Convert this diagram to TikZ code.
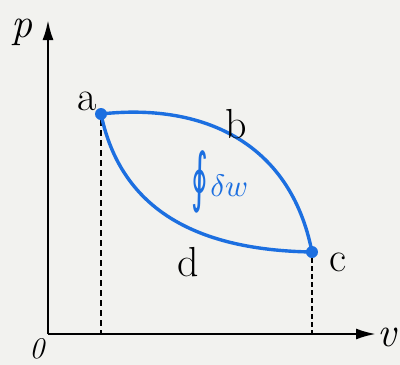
\documentclass[tikz,border=0pt]{standalone}
\usepackage{fontspec}
\newfontfamily\symfont{DejaVu Sans}
\usetikzlibrary{arrows.meta}
\definecolor{bg}{HTML}{F2F2EF}
\definecolor{pblue}{HTML}{1C6FE0}
\tikzset{
  axis/.style={line width=2.4pt, -{Latex[length=20pt,width=11pt]}},
  proc/.style={pblue, line width=3.4pt},
  guide/.style={line width=1.2pt, dash pattern=on 6pt off 4pt},
  guidec/.style={line width=2pt, dash pattern=on 5pt off 3pt},
  lbl/.style={font=\fontsize{42}{44}\selectfont, inner sep=0pt},
  dot/.style={circle, fill=pblue, minimum size=12pt, inner sep=0pt},
}
\begin{document}
\begin{tikzpicture}[x=1pt,y=-1pt]
\fill[bg] (0,0) rectangle (400,365);
\useasboundingbox (0,0) rectangle (400,365);
\coordinate (O) at (48,334);
\coordinate (ytip) at (48,20);
\coordinate (xtip) at (376,334);
\node[dot] (a) at (101,114) {};
\node[dot] (c) at (312,252) {};
\coordinate (af) at (101,334);
\coordinate (cf) at (312,334);
\draw[guide] (a) -- (af);
\draw[guidec] (c) -- (cf);
\draw[axis] (O) -- (ytip);
\draw[axis] (O) -- (xtip);
\draw[proc] (a.center) .. controls (200,103) and (290,140) .. (c.center);
\draw[proc] (a.center) .. controls (120,205) and (190,250) .. (c.center);
\node[lbl] (la) at (87,101) {a};
\node[lbl] (lb) at (236,124) {b};
\node[lbl] (lc) at (338,262) {c};
\node[lbl] (ld) at (188,262) {d};
\node[lbl, font=\fontsize{42}{44}\selectfont\itshape] (lp) at (22,32) {p};
\node[lbl, font=\fontsize{42}{44}\selectfont\itshape] (lv) at (387,337) {v};
\node[lbl, font=\fontsize{30}{32}\selectfont\itshape] (l0) at (37,349) {0};
\node[pblue, inner sep=0pt] (w) at (220,182) {\raisebox{-0.35em}{\fontsize{34}{36}\selectfont\symfont\scalebox{0.95}[1.9]{∮}}\,\scalebox{3.1}{$\delta w$}};
\end{tikzpicture}
\end{document}
